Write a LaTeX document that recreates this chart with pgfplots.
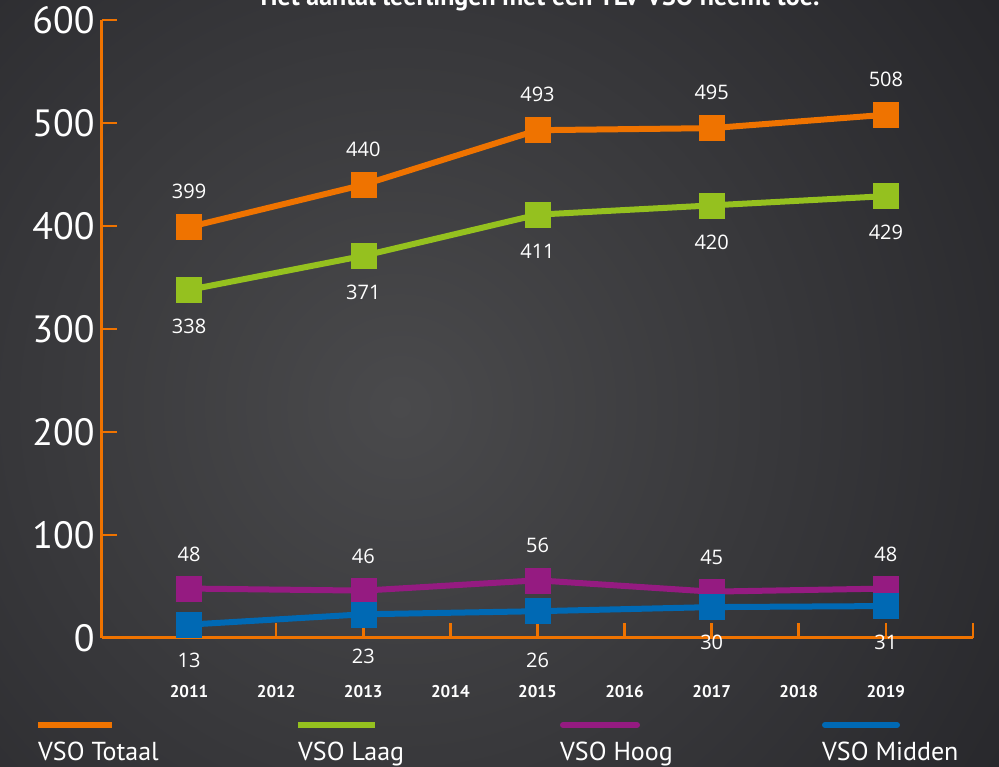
\documentclass[border=0pt]{standalone}
\usepackage{fontspec}
\setmainfont{PT Sans}
\newfontfamily\lbl{Open Sans}
\usepackage{pgfplots}
\pgfplotsset{compat=1.18}
\definecolor{cOr}{HTML}{EF7300}
\definecolor{cGr}{HTML}{95C11F}
\definecolor{cPu}{HTML}{951B81}
\definecolor{cBl}{HTML}{0069B4}
\definecolor{bgin}{HTML}{4A4A4C}
\definecolor{bgout}{HTML}{26262A}
\begin{document}
\begin{tikzpicture}
\begin{scope}
\clip (0pt,0pt) rectangle (999pt,767pt);
\fill[bgout] (0pt,0pt) rectangle (999pt,767pt);
\shade[inner color=bgin, outer color=bgout] (400pt,360pt) circle (740pt);
\end{scope}
\node[anchor=base, font=\bfseries\fontsize{26}{30}\selectfont, white, inner sep=0pt] at (540pt,761pt) {Het aantal leerlingen met een TLV VSO neemt toe.};
\begin{axis}[
  at={(102pt,129pt)}, anchor=south west,
  scale only axis, width=871pt, height=618pt,
  xmin=2010, xmax=2020, ymin=0, ymax=600,
  axis x line=bottom, axis y line=left,
  axis line style={cOr, line width=3pt, -},
  tick style={cOr, line width=2.5pt},
  tick align=inside, major tick length=15pt,
  xtick={2011,2012,...,2020},
  xticklabels={2011,2012,2013,2014,2015,2016,2017,2018,2019,},
  ytick={0,100,...,600},
  /pgf/number format/assume math mode=true,
  yticklabel style={font=\fontsize{38}{40}\selectfont, white, xshift=-4pt},
  xticklabel style={font=\bfseries\fontsize{17}{20}\selectfont, white, yshift=-44pt},
  clip=false,
  every axis plot/.append style={line width=6pt, mark=square*, mark size=12.5pt,
    mark options={line width=0.5pt, solid}},
  nodes near coords,
  visualization depends on={value \thisrow{s} \as \myshift},
  every node near coord/.style={white, font=\lbl\fontsize{20}{22}\selectfont, inner sep=2pt, yshift=\myshift},
]
\addplot[cOr, every node near coord/.append style={anchor=south}] table {
x y s
2011 399 26
2013 440 26
2015 493 26
2017 495 26
2019 508 26
};
\addplot[cGr, every node near coord/.append style={anchor=north}] table {
x y s
2011 338 -27
2013 371 -27
2015 411 -27
2017 420 -27
2019 429 -27
};
\addplot[cPu, every node near coord/.append style={anchor=south}] table {
x y s
2011 48 25
2013 46 25
2015 56 25
2017 45 25
2019 48 25
};
\addplot[cBl, every node near coord/.append style={anchor=north}] table {
x y s
2011 13 -26
2013 23 -32
2015 26 -40
2017 30 -26
2019 31 -27
};
\end{axis}
\draw[cOr, line width=6pt] (38pt,42pt) -- (112pt,42pt);
\draw[cGr, line width=6pt] (298pt,42pt) -- (375pt,42pt);
\draw[cPu, line width=6pt, line cap=round] (563pt,42pt) -- (637pt,42pt);
\draw[cBl, line width=6pt, line cap=round] (825pt,42pt) -- (897pt,42pt);
\begin{scope}[every node/.style={anchor=base west, white, inner sep=0pt, font=\fontsize{26}{28}\selectfont}]
\node at (38pt,6pt) {VSO Totaal};
\node at (298pt,6pt) {VSO Laag};
\node at (560pt,6pt) {VSO Hoog};
\node at (822pt,6pt) {VSO Midden};
\end{scope}
\pgfresetboundingbox
\useasboundingbox (0pt,0pt) rectangle (999pt,767pt);
\end{tikzpicture}
\end{document}
